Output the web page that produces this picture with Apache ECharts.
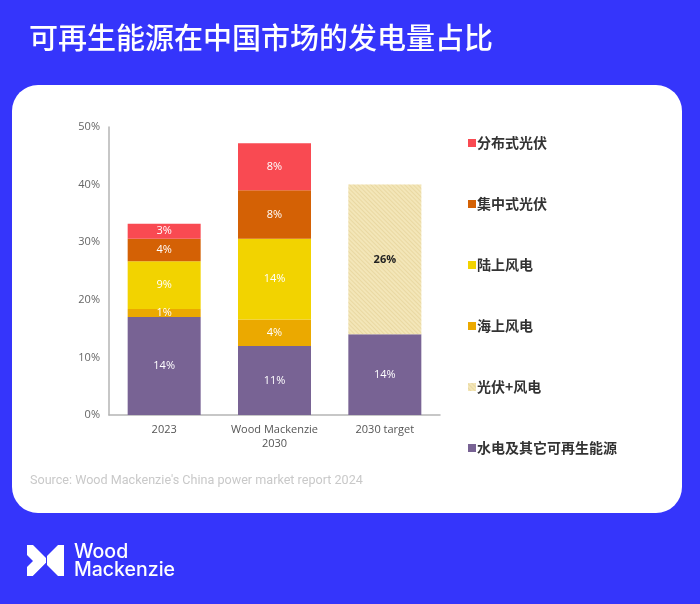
<!DOCTYPE html>
<html>
<head>
<meta charset="utf-8">
<script src="https://cdn.jsdelivr.net/npm/echarts@6/dist/echarts.min.js"></script>
<style>html,body{margin:0;padding:0;background:#3535fb;}#c{width:700px;height:604px;}</style>
</head>
<body>
<div id="c"></div>
<script>
// ---- data ----
var categories = ['2023', 'Wood Mackenzie\n2030', '2030 target'];
var seriesNames = ['分布式光伏', '集中式光伏', '陆上风电', '海上风电', '光伏+风电', '水电及其它可再生能源'];
// bar heights (percent, as drawn)
var hydroValues = [17.0, 12.0, 14.0];
var offshoreValues = [1.4, 4.6, null];
var onshoreValues = [8.3, 14.0, null];
var centralValues = [3.9, 8.4, null];
var distributedValues = [2.6, 8.2, null];
var solarWindValues = [null, null, 26.0];
// printed labels
var hydroLabels = ['14%', '11%', '14%'];
var offshoreLabels = ['1%', '4%', ''];
var onshoreLabels = ['9%', '14%', ''];
var centralLabels = ['4%', '8%', ''];
var distributedLabels = ['3%', '8%', ''];
var solarWindLabels = ['', '', '26%'];
var yTicks = { min: 0, max: 50, interval: 10 };

var colors = {
  '分布式光伏': '#f94a52',
  '集中式光伏': '#d46105',
  '陆上风电': '#f2d300',
  '海上风电': '#eba900',
  '光伏+风电': '#f3e6b8',
  '水电及其它可再生能源': '#786394'
};

var chart = echarts.init(document.getElementById('c'));

function mkSeries(name, values, labels, labelStyle) {
  var s = {
    name: name,
    type: 'bar',
    stack: 'total',
    barWidth: 73,
    data: values,
    itemStyle: { color: colors[name] },
    label: Object.assign({
      show: true,
      position: 'inside',
      color: '#fff',
      fontSize: 11,
      fontFamily: 'Open Sans',
      formatter: function (p) { return labels[p.dataIndex]; }
    }, labelStyle || {})
  };
  return s;
}

var hatch = {
  symbol: 'rect',
  symbolSize: 1,
  dashArrayX: [[1, 0]],
  dashArrayY: [1, 2],
  rotation: Math.PI / 4,
  color: 'rgba(215,190,120,0.35)'
};

var series = [
  mkSeries('水电及其它可再生能源', hydroValues, hydroLabels),
  mkSeries('海上风电', offshoreValues, offshoreLabels),
  mkSeries('陆上风电', onshoreValues, onshoreLabels),
  mkSeries('集中式光伏', centralValues, centralLabels),
  mkSeries('分布式光伏', distributedValues, distributedLabels),
  mkSeries('光伏+风电', solarWindValues, solarWindLabels, { color: '#222', fontWeight: 'bold' })
];
series[5].itemStyle.decal = hatch;

var legendTops = [131, 192, 253, 314, 375, 436];
var legends = seriesNames.map(function (n, i) {
  return {
    data: [{ name: n, icon: 'rect', itemStyle: { color: colors[n] } }],
    left: 463,
    top: legendTops[i],
    itemWidth: 8,
    itemHeight: 8,
    itemGap: 4,
    selectedMode: false,
    textStyle: { color: '#333', fontSize: 14, fontWeight: 'bold', fontFamily: 'Noto Sans CJK SC', padding: [0, 0, 0, -4] }
  };
});

var option = {
  backgroundColor: '#3535fb',
  animation: false,
  aria: { enabled: false, decal: { show: false } },
  graphic: [
    { type: 'rect', z: -10, shape: { x: 12, y: 85, width: 670, height: 428, r: 26 }, style: { fill: '#ffffff' } },
    { type: 'text', left: 29, top: 23, style: { text: '可再生能源在中国市场的发电量占比', fill: '#ffffff', font: '500 29px "Noto Sans CJK SC"' } },
    { type: 'text', left: 30, top: 474, style: { text: "Source: Wood Mackenzie's China power market report 2024", fill: '#c9c9c9', font: '12.6px Roboto' } },
    { type: 'polygon', shape: { points: [[27, 545], [33, 545], [46, 558], [46, 563], [33, 576], [27, 576]] }, style: { fill: '#fff' } },
    { type: 'polygon', shape: { points: [[64, 545], [58, 545], [47, 556], [47, 565], [58, 576], [64, 576]] }, style: { fill: '#fff' } },
    { type: 'polygon', shape: { points: [[33, 576], [46, 563], [46, 576]] }, style: { fill: '#3535fb' } },
    { type: 'polygon', shape: { points: [[27, 555], [33, 561], [27, 567]] }, style: { fill: '#3535fb' } },
    { type: 'text', left: 74, top: 542, style: { text: 'Wood', fill: '#fff', font: '500 19.5px Inter' } },
    { type: 'text', left: 74, top: 560, style: { text: 'Mackenzie', fill: '#fff', font: '500 19.5px Inter' } }
  ],
  legend: legends,
  grid: { left: 109, right: 260, top: 127, bottom: 189, containLabel: false },
  xAxis: {
    type: 'category',
    data: categories,
    axisLine: { lineStyle: { color: '#b5b5b5', width: 1.5 } },
    axisTick: { show: false },
    axisLabel: { interval: 0, color: '#555', fontSize: 11, fontFamily: 'Open Sans', margin: 8, lineHeight: 14 }
  },
  yAxis: {
    type: 'value',
    min: yTicks.min,
    max: yTicks.max,
    interval: yTicks.interval,
    axisLine: { show: true, lineStyle: { color: '#b5b5b5', width: 1.5 } },
    axisTick: { show: false },
    splitLine: { show: false },
    axisLabel: { color: '#666', fontSize: 11, fontFamily: 'Open Sans', margin: 9, formatter: '{value}%' }
  },
  series: series
};
chart.setOption(option);
</script>
</body>
</html>
